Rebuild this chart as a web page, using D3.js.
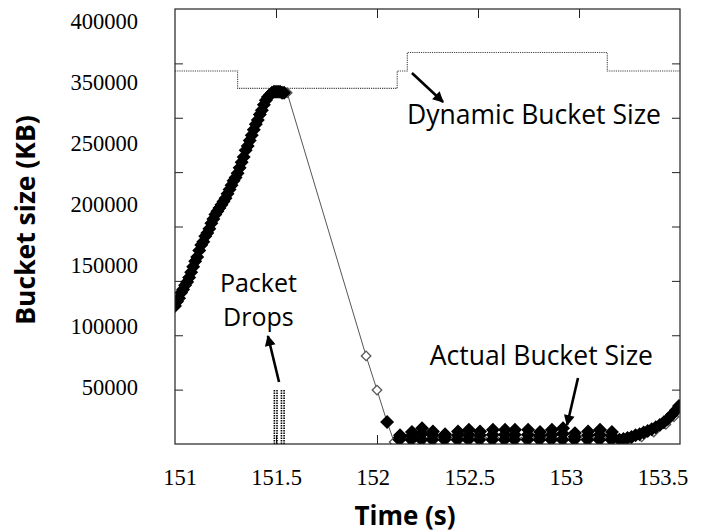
<!DOCTYPE html>
<html><head><meta charset="utf-8">
<script src="https://cdn.jsdelivr.net/npm/d3@7"></script>
<style>body{margin:0;background:#fff}svg{display:block}</style>
</head><body>
<svg id="c" width="711" height="532"></svg>
<script>
// ---------- data ----------
const xDomain = [151, 153.5];
const yDomain = [0, 400000];
const xTickValues = [151.5, 152, 152.5, 153];
const xTickLabels = ["151", "151.5", "152", "152.5", "153", "153.5"];
const yTickValues = [50000, 100000, 150000, 200000, 250000, 300000, 350000];
const yTickLabels = ["400000", "350000", "250000", "200000", "150000", "100000", "50000"];

// dynamic bucket size (step)
const dynT = [151.0, 151.31, 152.10, 152.15, 153.14, 153.5];
const dynV = [343000, 327000, 343000, 360000, 343000, 343000];

// packet drops (vertical marks)
const dropT = [151.492, 151.505, 151.527, 151.540];
const dropV = [50000, 50000, 50000, 50000];

// actual bucket size – filled diamonds [time, KB]
const actualFilled = [
 [151.00,127000],[151.01,131000],[151.02,134000],[151.03,139000],[151.04,142000],
 [151.05,146000],[151.06,149000],[151.07,153000],[151.08,158000],[151.09,163000],
 [151.10,168000],[151.11,172000],[151.12,178000],[151.13,183000],[151.14,186000],
 [151.15,191000],[151.16,194000],[151.17,198000],[151.18,203000],[151.19,207000],
 [151.20,211000],[151.21,214000],[151.22,217000],[151.23,220000],[151.24,223000],
 [151.25,226000],[151.26,230000],[151.27,234000],[151.28,238000],[151.29,242000],
 [151.30,245000],[151.31,249000],[151.32,254000],[151.33,259000],[151.34,264000],
 [151.35,270000],[151.36,274000],[151.37,279000],[151.38,284000],[151.39,289000],
 [151.40,294000],[151.41,298000],[151.42,303000],[151.43,307000],[151.44,312000],
 [151.45,316000],[151.46,319000],[151.47,321000],[151.48,323000],[151.49,324000],
 [151.50,324000],[151.51,324000],[151.52,324000],[151.53,323000],[151.54,323000],
 [152.05,20200],
 [152.111,4000],[152.113,6000],[152.114,8000],
 [152.170,4000],[152.172,7500],[152.173,11000],
 [152.220,4000],[152.222,9500],[152.223,14500],
 [152.274,4000],[152.276,8000],[152.277,11500],
 [152.334,4000],[152.336,6500],[152.337,9000],
 [152.398,4000],[152.400,8000],[152.401,11500],
 [152.452,4000],[152.454,8500],[152.455,13000],
 [152.507,4000],[152.509,8000],[152.510,11500],
 [152.571,4000],[152.573,8500],[152.574,13000],
 [152.631,4000],[152.633,8500],[152.634,13000],
 [152.680,4000],[152.682,8500],[152.683,13000],
 [152.745,4000],[152.747,8500],[152.748,13000],
 [152.804,4000],[152.806,7500],[152.807,11000],
 [152.863,4000],[152.865,8500],[152.866,13000],
 [152.918,4000],[152.920,9500],[152.921,14500],
 [152.977,4000],[152.979,7000],[152.980,10000],
 [153.042,4000],[153.044,8000],[153.045,11500],
 [153.101,4000],[153.103,8500],[153.104,13000],
 [153.160,4000],[153.162,7500],[153.163,11000],
 [153.20,4000],[153.22,4500],[153.24,5500],[153.26,6500],[153.28,8000],
 [153.30,9000],[153.32,10500],[153.34,12000],[153.36,13500],[153.38,15500],
 [153.40,17500],[153.42,20000],[153.44,23000],[153.46,27000],[153.48,31000],
 [153.495,35000]
];
// actual bucket size – hollow diamonds [time, KB]
const actualHollow = [
 [151.555,323000],[151.946,81000],[152.000,49600],
 [152.085,1800],[152.14,1800],[152.195,1800],[152.25,1800],[152.305,1800],
 [152.37,1800],[152.43,1800],[152.48,1800],[152.54,1800],[152.60,1800],
 [152.655,1800],[152.715,1800],[152.775,1800],[152.835,1800],[152.89,1800],
 [152.95,1800],[153.01,1800],[153.075,1800],[153.13,1800],[153.19,1800],
 [153.25,3500],[153.31,6500],[153.37,11000],[153.43,18000],[153.47,25000]
];

// annotations (data coords)
const annoText = [
 {text: "Dynamic Bucket Size", t: 152.777, v: 294200, size: 26.5},
 {text: "Packet", t: 151.413, v: 139500, size: 25},
 {text: "Drops", t: 151.413, v: 108500, size: 25},
 {text: "Actual Bucket Size", t: 152.814, v: 72600, size: 26.5}
];
const annoArrows = [
 {t0: 152.173, v0: 341100, t1: 152.327, v1: 314500},
 {t0: 151.515, v0: 57000, t1: 151.460, v1: 99300},
 {t0: 152.995, v0: 60700, t1: 152.941, v1: 17500}
];

// ---------- drawing ----------
const svg = d3.select("#c");
const L = 175, R = 680, T = 9, B = 444;
const x = d3.scaleLinear().domain(xDomain).range([L, R]);
const y = d3.scaleLinear().domain(yDomain).range([B, T]);

const defs = svg.append("defs");
defs.append("clipPath").attr("id", "clip").append("rect")
  .attr("x", L).attr("y", T).attr("width", R - L).attr("height", B - T);
defs.append("marker").attr("id", "ah").attr("viewBox", "0 0 10 10")
  .attr("refX", 9).attr("refY", 5).attr("markerWidth", 4.6).attr("markerHeight", 4.2)
  .attr("markerUnits", "strokeWidth").attr("orient", "auto")
  .append("path").attr("d", "M0,0L10,5L0,10Z").attr("fill", "#000");

// tick marks (inward)
const tickStyle = g => { g.select(".domain").remove(); g.selectAll("line").attr("stroke", "#222"); };
svg.append("g").attr("transform", `translate(${L},0)`)
  .call(d3.axisLeft(y).tickValues(yTickValues).tickSize(-8).tickFormat("")).call(tickStyle);
svg.append("g").attr("transform", `translate(${R},0)`)
  .call(d3.axisRight(y).tickValues(yTickValues).tickSize(-8).tickFormat("")).call(tickStyle);
svg.append("g").attr("transform", `translate(0,${B})`)
  .call(d3.axisBottom(x).tickValues(xTickValues).tickSize(-9).tickFormat("")).call(tickStyle);
svg.append("g").attr("transform", `translate(0,${T})`)
  .call(d3.axisTop(x).tickValues(xTickValues).tickSize(-9).tickFormat("")).call(tickStyle);

// tick labels
const xl = d3.scalePoint().domain(xTickLabels).range([180, 663]);
svg.append("g").selectAll("text").data(xTickLabels).join("text")
  .attr("x", d => xl(d)).attr("y", 485).attr("text-anchor", "middle")
  .attr("font-family", "Liberation Serif, Times New Roman, serif").attr("font-size", 22.5)
  .text(d => d);
const yl = d3.scalePoint().domain(yTickLabels).range([29, 395]);
svg.append("g").selectAll("text").data(yTickLabels).join("text")
  .attr("x", 138).attr("y", d => yl(d)).attr("text-anchor", "end")
  .attr("font-family", "Liberation Serif, Times New Roman, serif").attr("font-size", 22.5)
  .text(d => d);

// axis titles
svg.append("text").attr("transform", "translate(35,220) rotate(-90)")
  .attr("text-anchor", "middle").attr("font-family", "Open Sans, sans-serif")
  .attr("font-weight", "bold").attr("font-size", 26.5).text("Bucket size (KB)");
svg.append("text").attr("x", 405).attr("y", 525).attr("text-anchor", "middle")
  .attr("font-family", "Open Sans, sans-serif").attr("font-weight", "bold")
  .attr("font-size", 26).text("Time (s)");

const plot = svg.append("g").attr("clip-path", "url(#clip)");

// dynamic bucket size
const dynData = dynT.map((t, i) => [t, dynV[i]]);
plot.append("path").datum(dynData)
  .attr("d", d3.line().x(d => x(d[0])).y(d => y(d[1])).curve(d3.curveStepAfter))
  .attr("fill", "none").attr("stroke", "#444").attr("stroke-width", 1.1)
  .attr("stroke-dasharray", "1.2,1");

// packet drops
plot.append("g").selectAll("line").data(dropT).join("line")
  .attr("x1", d => x(d)).attr("x2", d => x(d))
  .attr("y1", y(0)).attr("y2", (d, i) => y(dropV[i]))
  .attr("stroke", "#000").attr("stroke-width", 1.6).attr("stroke-dasharray", "1.5,1");

// connecting line for actual bucket size
const allPts = actualFilled.concat(actualHollow).slice().sort((a, b) => a[0] - b[0]);
plot.append("path").datum(allPts)
  .attr("d", d3.line().x(d => x(d[0])).y(d => y(d[1])))
  .attr("fill", "none").attr("stroke", "#555").attr("stroke-width", 1);

const diamondS = d3.symbol().type(d3.symbolSquare).size(45)();
const diamondL = d3.symbol().type(d3.symbolSquare).size(72)();
plot.append("g").selectAll("path").data(actualHollow).join("path")
  .attr("d", diamondS)
  .attr("transform", d => `translate(${x(d[0])},${y(d[1])}) rotate(45)`)
  .attr("fill", "#fff").attr("stroke", "#555").attr("stroke-width", 1.3);
plot.append("g").selectAll("path").data(actualFilled).join("path")
  .attr("d", diamondL)
  .attr("transform", d => `translate(${x(d[0])},${y(d[1])}) rotate(45)`)
  .attr("fill", "#000").attr("stroke", "#000").attr("stroke-width", 1.4);

// frame
svg.append("rect").attr("x", L).attr("y", T).attr("width", R - L).attr("height", B - T)
  .attr("fill", "none").attr("stroke", "#222").attr("stroke-width", 1.2);

// annotations
svg.append("g").selectAll("text").data(annoText).join("text")
  .attr("x", d => x(d.t)).attr("y", d => y(d.v)).attr("text-anchor", "middle")
  .attr("font-family", "Open Sans, sans-serif").attr("font-size", d => d.size)
  .text(d => d.text);
svg.append("g").selectAll("line").data(annoArrows).join("line")
  .attr("x1", d => x(d.t0)).attr("y1", d => y(d.v0))
  .attr("x2", d => x(d.t1)).attr("y2", d => y(d.v1))
  .attr("stroke", "#000").attr("stroke-width", 2.6).attr("marker-end", "url(#ah)");
</script>
</body></html>
